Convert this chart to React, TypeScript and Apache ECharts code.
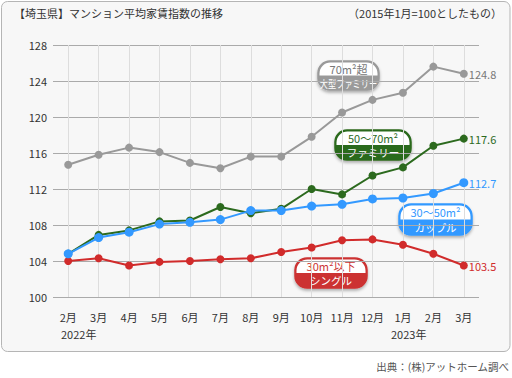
import React, { useEffect, useRef } from "react";
import * as echarts from "echarts";

const categories = [
  "2022年2月", "2022年3月", "2022年4月", "2022年5月", "2022年6月", "2022年7月", "2022年8月",
  "2022年9月", "2022年10月", "2022年11月", "2022年12月", "2023年1月", "2023年2月", "2023年3月",
];
const largeFamily = [114.7, 115.8, 116.6, 116.1, 114.9, 114.3, 115.6, 115.6, 117.8, 120.5, 121.9, 122.7, 125.6, 124.8];
const family = [104.8, 106.9, 107.4, 108.4, 108.5, 110.0, 109.3, 109.8, 112.0, 111.4, 113.5, 114.4, 116.8, 117.6];
const couple = [104.8, 106.6, 107.2, 108.1, 108.3, 108.6, 109.6, 109.6, 110.1, 110.3, 110.9, 111.0, 111.5, 112.7];
const single = [104.0, 104.3, 103.5, 103.9, 104.0, 104.2, 104.3, 105.0, 105.5, 106.3, 106.4, 105.8, 104.8, 103.5];
const yMin = 100;
const yMax = 128;
const yInterval = 4;
const yearLabels = ["2022年", "2023年"];
const title = "【埼玉県】マンション平均家賃指数の推移";
const note = "（2015年1月=100としたもの）";
const source = "出典：(株)アットホーム調べ";

const FONT = "'Noto Sans CJK JP', 'Noto Sans', sans-serif";

function badge(
  x: number, y: number, w: number, h: number, color: string, topColor: string,
  top: string, bottom: string, bottomScale: number
) {
  const r = 12;
  return {
    type: "group",
    x,
    y,
    z: 100,
    children: [
      {
        type: "rect",
        shape: { x: 0, y: 0, width: w, height: h, r },
        style: {
          fill: color,
          stroke: color,
          lineWidth: 1.5,
          shadowBlur: 3,
          shadowOffsetY: 2,
          shadowColor: "rgba(0,0,0,0.3)",
        },
      },
      {
        type: "rect",
        shape: { x: 1.5, y: 1.5, width: w - 3, height: h / 2 - 1.5, r: [r - 1, r - 1, 0, 0] },
        style: { fill: "#ffffff" },
      },
      {
        type: "text",
        x: w / 2,
        y: h * 0.27,
        style: { text: top, fill: topColor, font: `11px ${FONT}`, align: "center", verticalAlign: "middle", lineHeight: 12 },
      },
      {
        type: "text",
        x: w / 2,
        y: h * 0.76,
        scaleX: bottomScale,
        style: { text: bottom, fill: "#ffffff", font: `10.5px ${FONT}`, align: "center", verticalAlign: "middle", lineHeight: 12 },
      },
    ],
  };
}

export default function App() {
  const ref = useRef<HTMLDivElement>(null);
  useEffect(() => {
    document.body.style.margin = "0";
    const chart = echarts.init(ref.current!, undefined, { renderer: "svg" });
    const lineSeries = (name: string, data: number[], color: string, labelColor: string, symbolSize: number, extra: any = {}) => ({
      name,
      type: "line",
      data,
      symbol: "circle",
      symbolSize,
      lineStyle: { color, width: 2 },
      itemStyle: { color },
      endLabel: {
        show: true,
        formatter: (p: any) => Number(p.value).toFixed(1),
        color: labelColor,
        fontSize: 11,
        fontFamily: FONT,
        distance: 5,
      },
      ...extra,
    });
    chart.setOption({
      animation: false,
      textStyle: { fontFamily: FONT },
      grid: { left: 53, right: 33, top: 45, height: 252, containLabel: false },
      xAxis: {
        type: "category",
        data: categories,
        boundaryGap: true,
        axisLine: { show: false },
        axisTick: { show: false },
        splitLine: { show: false },
        axisLabel: {
          color: "#333",
          fontSize: 11,
          margin: 14,
          formatter: (v: string) => v.replace(/^\d+年/, ""),
        },
      },
      yAxis: {
        type: "value",
        min: yMin,
        max: yMax,
        interval: yInterval,
        axisLine: { show: false },
        axisTick: { show: false },
        axisLabel: { color: "#333", fontSize: 11, margin: 6 },
        splitLine: { lineStyle: { color: "#aaaaaa", width: 1 } },
      },
      series: [
        lineSeries("30m²以下 シングル", single, "#d12b2b", "#d12b2b", 8, {
          markLine: {
            silent: true,
            symbol: ["none", "none"],
            label: { show: false },
            lineStyle: { color: "#dddddd", type: "solid", width: 1 },
            z: 0,
            data: categories.map((_, i) => ({ xAxis: i })),
          },
        }),
        lineSeries("50〜70m² ファミリー", family, "#2c6a1e", "#2c6a1e", 8),
        lineSeries("30〜50m² カップル", couple, "#3399ff", "#3399ff", 9),
        lineSeries("70m²超 大型ファミリー", largeFamily, "#999999", "#777777", 8),
      ],
      graphic: [
        {
          type: "rect",
          z: -10,
          shape: { x: 1.5, y: 1.5, width: 508.5, height: 350, r: 6 },
          style: { fill: "#f7f7f7", stroke: "#b5b5b5", lineWidth: 1 },
        },
        { type: "text", x: 14, y: 13, style: { text: title, fill: "#333", font: `11px ${FONT}`, verticalAlign: "middle" } },
        { type: "text", x: 502, y: 13, style: { text: note, fill: "#333", font: `11px ${FONT}`, align: "right", verticalAlign: "middle" } },
        { type: "text", x: 61, y: 334, style: { text: yearLabels[0], fill: "#333", font: `11px ${FONT}`, verticalAlign: "middle" } },
        { type: "text", x: 391, y: 334, style: { text: yearLabels[1], fill: "#333", font: `11px ${FONT}`, verticalAlign: "middle" } },
        { type: "text", x: 509, y: 366, style: { text: source, fill: "#555", font: `10.5px ${FONT}`, align: "right", verticalAlign: "middle" } },
        badge(318, 61, 61, 29, "#9a9a9a", "#777777", "70m²超", "大型ファミリー", 0.78),
        badge(335, 130, 76, 30, "#2c6a1e", "#2c6a1e", "50〜70m²", "ファミリー", 1),
        badge(399, 204, 73, 31, "#3399ff", "#3399ff", "30〜50m²", "カップル", 1),
        badge(295, 258, 72, 30, "#cc3333", "#cc3333", "30m²以下", "シングル", 1),
      ],
    });
    return () => chart.dispose();
  }, []);
  return <div ref={ref} style={{ position: "absolute", left: 0, top: 0, width: 512, height: 378 }} />;
}
